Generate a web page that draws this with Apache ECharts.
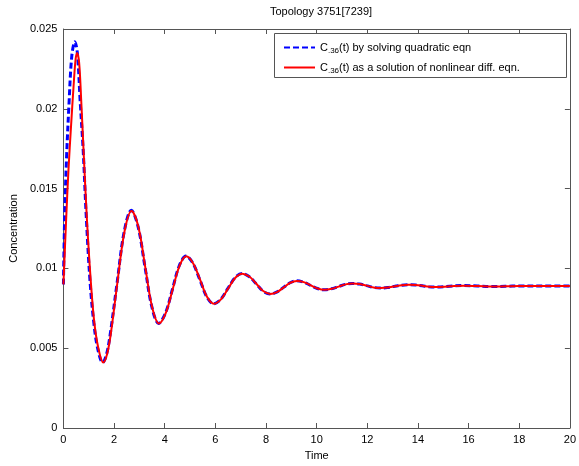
<!DOCTYPE html>
<html>
<head>
<meta charset="utf-8">
<script src="https://cdn.jsdelivr.net/npm/echarts@6/dist/echarts.min.js"></script>
<style>
html,body{margin:0;padding:0;background:#fff;}
#chart{width:579px;height:466px;}
</style>
</head>
<body>
<div id="chart"></div>
<script>
// ---- data ----
const chartTitle = 'Topology 3751[7239]';
const xTicks = [0, 2, 4, 6, 8, 10, 12, 14, 16, 18, 20];
const yTicks = [0, 0.005, 0.01, 0.015, 0.02, 0.025];

const timeQuad = [0, 0.05, 0.12, 0.22, 0.33, 0.45, 0.55, 0.66, 0.78, 0.9, 1.05, 1.2, 1.35, 1.55, 1.7, 1.85,
  2.12, 2.4, 2.68, 2.95, 3.22, 3.49, 3.76, 4.03, 4.3, 4.57, 4.84, 5.11, 5.39, 5.66, 5.93, 6.21, 6.49, 6.77,
  7.05, 7.33, 7.61, 7.88, 8.16, 8.42, 8.69, 8.95, 9.21, 9.48, 9.76, 10.03, 10.3, 10.58, 10.86, 11.13, 11.41,
  11.69, 11.97, 12.24, 12.52, 12.8, 13.08, 13.35, 13.63, 13.9, 14.17, 14.43, 14.7, 15.25, 15.8, 16.35, 16.9,
  17.45, 18.0, 19.0, 20.0];
const concQuad = [0.0090, 0.0133, 0.0168, 0.0203, 0.0233, 0.0242, 0.0235, 0.0205, 0.0174, 0.0133, 0.0092, 0.0066, 0.0050, 0.0041, 0.0046, 0.0059,
  0.0091, 0.0123, 0.01365, 0.0126, 0.0101, 0.0076, 0.00655, 0.0072, 0.00866, 0.01015, 0.01077, 0.01033, 0.00928, 0.00822, 0.00778, 0.00806, 0.00873, 0.0094,
  0.00968, 0.00949, 0.00904, 0.00858, 0.00839, 0.00851, 0.00881, 0.0091, 0.00922, 0.00914, 0.00894, 0.00874, 0.00866, 0.00872, 0.00886, 0.009, 0.00906,
  0.00902, 0.00892, 0.00881, 0.00877, 0.0088, 0.00888, 0.00895, 0.00898, 0.00896, 0.00891, 0.00885, 0.00883, 0.00888, 0.00893, 0.0089, 0.00886,
  0.00888, 0.0089, 0.00889, 0.00889];

const timeODE = [0, 0.1, 0.2, 0.3, 0.4, 0.48, 0.54, 0.62, 0.7, 0.8, 0.93, 1.08, 1.22, 1.38, 1.57, 1.72, 1.87,
  2.13, 2.41, 2.69, 2.96, 3.23, 3.5, 3.77, 4.04, 4.31, 4.58, 4.85, 5.12, 5.4, 5.67, 5.94, 6.22, 6.5, 6.78,
  7.06, 7.34, 7.62, 7.89, 8.17, 8.43, 8.7, 8.96, 9.22, 9.49, 9.77, 10.04, 10.31, 10.59, 10.87, 11.14, 11.42,
  11.7, 11.98, 12.25, 12.53, 12.81, 13.09, 13.36, 13.64, 13.91, 14.18, 14.44, 14.71, 15.26, 15.81, 16.36, 16.91,
  17.46, 18.0, 19.0, 20.0];
const concODE = [0.0090, 0.0128, 0.0162, 0.0189, 0.0214, 0.0231, 0.0235, 0.0229, 0.0206, 0.0172, 0.0130, 0.0092, 0.0066, 0.0050, 0.0041, 0.0046, 0.0059,
  0.0091, 0.0123, 0.0136, 0.0126, 0.0101, 0.0076, 0.00655, 0.0072, 0.00866, 0.01015, 0.01076, 0.01033, 0.00928, 0.00822, 0.00778, 0.00806, 0.00873, 0.0094,
  0.00967, 0.00949, 0.00904, 0.00858, 0.0084, 0.00851, 0.00881, 0.0091, 0.00921, 0.00914, 0.00894, 0.00874, 0.00866, 0.00872, 0.00886, 0.009, 0.00905,
  0.00902, 0.00892, 0.00881, 0.00877, 0.0088, 0.00888, 0.00895, 0.00897, 0.00896, 0.00891, 0.00885, 0.00883, 0.00888, 0.00892, 0.0089, 0.00886,
  0.00888, 0.0089, 0.00889, 0.00889];

const nameQuad = 'quad';
const nameODE = 'ode';
const legendText = {
  quad: ['C', '.36', '(t) by solving quadratic eqn'],
  ode: ['C', '.36', '(t) as a solution of nonlinear diff. eqn.']
};

// ---- chart ----
const FONT = 'Liberation Sans, Arial, Helvetica, sans-serif';
const AX = '#555';
const pair = (xs, ys) => xs.map((x, i) => [x, ys[i]]);

const chart = echarts.init(document.getElementById('chart'), null, {renderer: 'canvas'});
const xMin = xTicks[0], xMax = xTicks[xTicks.length - 1], xInt = xTicks[1] - xTicks[0];
const yMin = yTicks[0], yMax = yTicks[yTicks.length - 1], yInt = yTicks[1] - yTicks[0];

const mkAxis = (extra) => Object.assign({
  axisLine: {show: true, onZero: false, lineStyle: {color: AX, width: 1}},
  axisTick: {show: true, inside: true, length: 5, lineStyle: {color: AX}},
  splitLine: {show: false}
}, extra);

chart.setOption({
  backgroundColor: '#fff',
  animation: false,
  title: {
    text: chartTitle, left: 316, top: 1, textAlign: 'center',
    textStyle: {fontFamily: FONT, fontSize: 11, fontWeight: 'normal', color: '#000'}
  },
  grid: {left: 59.5, right: 7, top: 29, bottom: 34, containLabel: false},
  xAxis: [
    mkAxis({
      type: 'value', min: xMin, max: xMax, interval: xInt, position: 'bottom',
      name: 'Time', nameLocation: 'middle', nameGap: 22,
      nameTextStyle: {fontFamily: FONT, fontSize: 11, color: '#000'},
      axisLabel: {fontFamily: FONT, fontSize: 11, color: '#000', margin: 6}
    }),
    mkAxis({
      type: 'value', min: xMin, max: xMax, interval: xInt, position: 'top',
      axisLabel: {show: false}
    })
  ],
  yAxis: [
    mkAxis({
      type: 'value', min: yMin, max: yMax, interval: yInt, position: 'left',
      name: 'Concentration', nameLocation: 'middle', nameGap: 38, nameRotate: 90,
      nameTextStyle: {fontFamily: FONT, fontSize: 11, color: '#000'},
      axisLabel: {fontFamily: FONT, fontSize: 11, color: '#000', margin: 6}
    }),
    mkAxis({
      type: 'value', min: yMin, max: yMax, interval: yInt, position: 'right',
      axisLabel: {show: false}
    })
  ],
  legend: {
    orient: 'vertical', left: 283, top: 40, itemWidth: 31, itemHeight: 14, itemGap: 5,
    padding: 0, borderWidth: 0, backgroundColor: 'transparent',
    data: [nameQuad, nameODE],
    itemStyle: {opacity: 0},
    formatter: n => `{a|${legendText[n][0]}}{s|${legendText[n][1]}}{a|${legendText[n][2]}}`,
    textStyle: {
      fontFamily: FONT, fontSize: 11, color: '#000',
      rich: {
        a: {fontFamily: FONT, fontSize: 11, color: '#000', lineHeight: 14, verticalAlign: 'middle'},
        s: {fontFamily: FONT, fontSize: 8, color: '#000', lineHeight: 14, verticalAlign: 'middle', padding: [7, 0, 0, 0]}
      }
    }
  },
  graphic: [{
    type: 'rect', z: 0, zlevel: 0, silent: true,
    shape: {x: 274.5, y: 33.5, width: 292, height: 44},
    style: {fill: '#fff', stroke: AX, lineWidth: 1}
  }],
  series: [
    {
      name: nameQuad, type: 'line', data: pair(timeQuad, concQuad),
      smooth: 0.35, showSymbol: false, symbol: 'none',
      lineStyle: {color: '#0000ff', width: 3, type: [6, 3]},
      itemStyle: {color: '#0000ff'}, z: 2
    },
    {
      name: nameODE, type: 'line', data: pair(timeODE, concODE),
      smooth: 0.35, showSymbol: false, symbol: 'none',
      lineStyle: {color: '#ff0000', width: 2, type: 'solid'},
      itemStyle: {color: '#ff0000'}, z: 3
    }
  ]
});
</script>
</body>
</html>
